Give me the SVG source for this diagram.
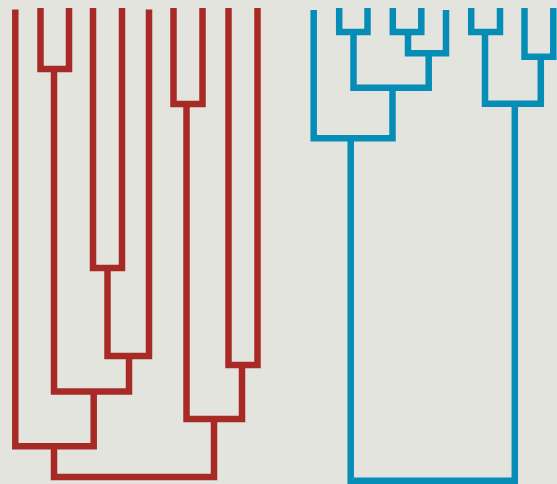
<svg xmlns="http://www.w3.org/2000/svg" width="557" height="484" viewBox="0 0 557 484">
<style>
.l{fill:none;stroke-width:6.5;stroke-linecap:butt;stroke-linejoin:miter}
.r{stroke:#a82a26}
.b{stroke:#058cb7}
</style>
<rect width="557" height="484" fill="#e4e4df"/>
<g id="connectors">
<g id="red-tree">
<path class="l r" d="M40.5 8V69H69V8"/>
<path class="l r" d="M173.5 8V104H202.5V8"/>
<path class="l r" d="M93 8V268H122V8"/>
<path class="l r" d="M107.5 268V356H149V9.5"/>
<path class="l r" d="M54 69V391.5H129V356"/>
<path class="l r" d="M228.5 8V365H257.5V8"/>
<path class="l r" d="M186.5 104V419H242V365"/>
<path class="l r" d="M15.3 9.5V446.3H93.7V391.5"/>
<path class="l r" d="M54 446.3V477H214V419"/>
</g>
<g id="blue-tree">
<path class="l b" d="M339.2 8V32H367.5V8"/>
<path class="l b" d="M392.8 8V32H421.3V8"/>
<path class="l b" d="M408 32V53.3H446V10"/>
<path class="l b" d="M353.5 32V87.8H428.7V53.3"/>
<path class="l b" d="M313.7 10V138.2H392.5V87.8"/>
<path class="l b" d="M471.2 8V32H500V8"/>
<path class="l b" d="M524.5 8V56.7H553.3V8"/>
<path class="l b" d="M485 32V103.7H540.8V56.7"/>
<path class="l b" d="M350.7 138.2V480.7H514.8V103.7"/>
</g>
</g>
</svg>
